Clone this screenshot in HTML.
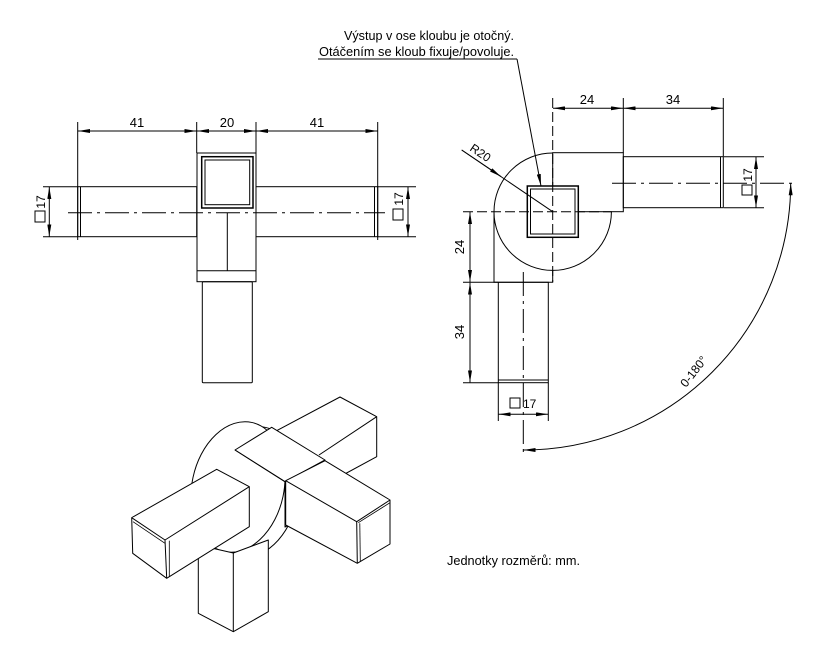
<!DOCTYPE html>
<html><head><meta charset="utf-8"><style>
html,body{margin:0;padding:0;background:#fff;}
svg{display:block;}
text{font-family:"Liberation Sans",sans-serif;fill:#000;}
</style></head><body>
<svg width="830" height="661" viewBox="0 0 830 661" xmlns="http://www.w3.org/2000/svg">
<defs>
<marker id="a" viewBox="0 0 12 4" markerWidth="12" markerHeight="4" refX="12" refY="2" orient="auto-start-reverse" markerUnits="userSpaceOnUse"><path d="M0,0 L12,2 L0,4 z" fill="#000"/></marker>
</defs>
<g fill="none" stroke="#000" stroke-width="1">
<!-- LEFT VIEW -->
<line x1="77.7" y1="122" x2="77.7" y2="240"/>
<line x1="196.7" y1="122" x2="196.7" y2="153"/>
<line x1="256" y1="122" x2="256" y2="153"/>
<line x1="377.7" y1="122" x2="377.7" y2="240"/>
<line x1="78" y1="131" x2="196.5" y2="131" marker-start="url(#a)" marker-end="url(#a)"/>
<line x1="197" y1="131" x2="255.8" y2="131" marker-start="url(#a)" marker-end="url(#a)"/>
<line x1="256.2" y1="131" x2="377.5" y2="131" marker-start="url(#a)" marker-end="url(#a)"/>
<rect x="197" y="153" width="59" height="128.7"/>
<rect x="201.7" y="156.7" width="51.3" height="51.3" stroke-width="1.5"/>
<rect x="205" y="160" width="44.7" height="44.7"/>
<line x1="197" y1="270.7" x2="256" y2="270.7"/>
<line x1="227.3" y1="212.7" x2="227.3" y2="270.7"/>
<rect x="77.7" y="186.7" width="119" height="50"/>
<line x1="80.5" y1="186.7" x2="80.5" y2="236.7"/>
<rect x="256" y="186.7" width="121.7" height="50"/>
<line x1="374.5" y1="186.7" x2="374.5" y2="236.7"/>
<line x1="68" y1="212.7" x2="385" y2="212.7" stroke-dasharray="24,5,3,5"/>
<rect x="202.3" y="281.7" width="50" height="101" rx="1"/>
<line x1="43" y1="186.7" x2="78" y2="186.7"/>
<line x1="43" y1="236.7" x2="78" y2="236.7"/>
<line x1="49.3" y1="187" x2="49.3" y2="236.5" marker-start="url(#a)" marker-end="url(#a)"/>
<line x1="378" y1="186.7" x2="416" y2="186.7"/>
<line x1="378" y1="236.7" x2="416" y2="236.7"/>
<line x1="408" y1="187" x2="408" y2="236.5" marker-start="url(#a)" marker-end="url(#a)"/>
<rect x="35" y="211" width="10" height="11"/>
<rect x="393" y="209" width="10" height="11"/>

<!-- RIGHT VIEW -->
<circle cx="552.7" cy="211.7" r="58.7" fill="#fff"/>
<rect x="552.7" y="152.7" width="70.6" height="59" fill="#fff"/>
<path d="M494,211.7 L494,282.3 L552.7,282.3 L552.7,270.4"/>
<rect x="623.3" y="156.7" width="100" height="51"/>
<line x1="720.5" y1="156.7" x2="720.5" y2="207.7"/>
<rect x="498.3" y="282.3" width="50" height="100.4"/>
<line x1="498.3" y1="380" x2="548.3" y2="380"/>
<rect x="527.3" y="186" width="51" height="51.3" stroke-width="1.5" fill="#fff"/>
<rect x="530.5" y="189" width="44.5" height="45"/>
<line x1="552.7" y1="98" x2="552.7" y2="282" stroke-dasharray="10,4"/>
<line x1="463" y1="211.7" x2="612" y2="211.7" stroke-dasharray="10,4"/>
<line x1="523.3" y1="272" x2="523.3" y2="456" stroke-dasharray="24,5,3,5"/>
<line x1="612" y1="183.3" x2="797" y2="183.3" stroke-dasharray="24,5,3,5"/>
<line x1="623.3" y1="98" x2="623.3" y2="152.7"/>
<line x1="723.3" y1="98" x2="723.3" y2="156.7"/>
<line x1="553" y1="108.3" x2="623" y2="108.3" marker-start="url(#a)" marker-end="url(#a)"/>
<line x1="623.6" y1="108.3" x2="723" y2="108.3" marker-start="url(#a)" marker-end="url(#a)"/>
<line x1="724" y1="156.7" x2="764" y2="156.7"/>
<line x1="724" y1="207.7" x2="764" y2="207.7"/>
<line x1="756" y1="157" x2="756" y2="207.5" marker-start="url(#a)" marker-end="url(#a)"/>
<line x1="463" y1="282.3" x2="498" y2="282.3"/>
<line x1="463" y1="382.7" x2="498" y2="382.7"/>
<line x1="470" y1="212" x2="470" y2="282" marker-start="url(#a)" marker-end="url(#a)"/>
<line x1="470" y1="282.6" x2="470" y2="382.4" marker-start="url(#a)" marker-end="url(#a)"/>
<line x1="498.3" y1="383" x2="498.3" y2="421"/>
<line x1="548.3" y1="383" x2="548.3" y2="421"/>
<line x1="498.6" y1="414.3" x2="548" y2="414.3" marker-start="url(#a)" marker-end="url(#a)"/>
<rect x="510" y="398" width="10" height="10"/>
<rect x="742" y="185" width="10" height="10"/>
<line x1="461.7" y1="150" x2="552.7" y2="211.7"/>
<line x1="461.7" y1="150" x2="501" y2="176.6" marker-end="url(#a)"/>
<path d="M790.7,183.3 A267,267 0 0 1 523.5,450" marker-start="url(#a)" marker-end="url(#a)"/>
<line x1="517" y1="59" x2="541" y2="186" marker-end="url(#a)"/>
<line x1="318" y1="59" x2="517" y2="59"/>

<!-- ISOMETRIC -->
<g fill="#fff" stroke-linejoin="round">
<!-- back arm -->
<polygon points="340,397 376.7,416.7 376.7,456.7 330,482 300,470 271.7,433.3"/>
<line x1="376.7" y1="416.7" x2="319" y2="455"/>
<!-- ring -->
<ellipse cx="252" cy="492" rx="46" ry="66" transform="rotate(12 252 492)"/>
<ellipse cx="238" cy="487" rx="46" ry="66" transform="rotate(12 238 487)"/>
<!-- bottom tube -->
<polygon points="198.3,545 233.3,553 268.3,540 268.3,611.7 233.3,631.7 198.3,613.3"/>
<line x1="233.3" y1="553" x2="233.3" y2="631.7"/>
<!-- center block -->
<polygon points="235,450 271.7,427.3 325,460 325,505 285,527 285,481.7"/>
<line x1="285" y1="481.7" x2="325" y2="460"/>
<line x1="235" y1="450" x2="285" y2="481.7"/>
<!-- left arm -->
<polygon points="216.7,469.3 249.3,486.7 249.3,526.7 166.7,578.3 132.7,553.3 131.7,517.7"/>
<polyline points="131.7,517.7 165,540 249.3,486.7"/>
<line x1="165" y1="540" x2="166.7" y2="578.3"/>
<line x1="133" y1="521.7" x2="165" y2="543.3" stroke-width="0.8"/>
<line x1="169.3" y1="540.7" x2="169.3" y2="576.7" stroke-width="0.8"/>
<!-- right arm -->
<polygon points="285.7,480.7 325,460.7 390,500 390,544 357.3,563.3 285.7,525"/>
<polyline points="285.7,480.7 356.7,521.7 390,500"/>
<line x1="356.7" y1="521.7" x2="357.3" y2="563.3"/>
<line x1="359.8" y1="523.3" x2="360.3" y2="561.5" stroke-width="0.8"/>
<line x1="358.3" y1="522.7" x2="390" y2="502.7" stroke-width="0.8"/>
</g>
</g>

<!-- TEXT -->
<g font-size="13">
<text x="137" y="127" text-anchor="middle">41</text>
<text x="227" y="127" text-anchor="middle">20</text>
<text x="317" y="127" text-anchor="middle">41</text>
<text transform="translate(45,202) rotate(-90)" text-anchor="middle" font-size="12">17</text>
<text transform="translate(403,199) rotate(-90)" text-anchor="middle" font-size="12">17</text>
<text x="587" y="104" text-anchor="middle">24</text>
<text x="673" y="104" text-anchor="middle">34</text>
<text transform="translate(752,175) rotate(-90)" text-anchor="middle" font-size="12">17</text>
<text transform="translate(464,247) rotate(-90)" text-anchor="middle">24</text>
<text transform="translate(464,332) rotate(-90)" text-anchor="middle">34</text>
<text x="523" y="408" font-size="12">17</text>
<text transform="translate(469,150) rotate(34)" font-size="12">R20</text>
<text transform="translate(686,388) rotate(-52)" font-size="12">0-180°</text>
<text x="344" y="40" textLength="170" lengthAdjust="spacingAndGlyphs">Výstup v ose kloubu je otočný.</text>
<text x="319" y="56" textLength="195" lengthAdjust="spacingAndGlyphs">Otáčením se kloub fixuje/povoluje.</text>
<text x="447" y="565" textLength="133" lengthAdjust="spacingAndGlyphs">Jednotky rozměrů: mm.</text>
</g>
</svg>
</body></html>
